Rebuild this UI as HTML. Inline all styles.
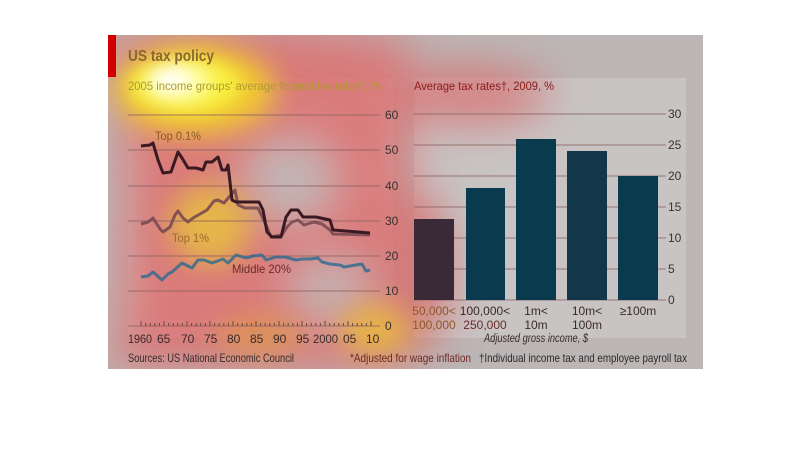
<!DOCTYPE html>
<html><head><meta charset="utf-8"><style>
html,body{margin:0;padding:0;background:#fff;width:810px;height:464px;overflow:hidden}
svg{display:block;font-family:"Liberation Sans",sans-serif}
</style></head><body>
<svg width="810" height="464" viewBox="0 0 810 464">
<defs>
<filter id="b" x="-50%" y="-50%" width="200%" height="200%"><feGaussianBlur stdDeviation="22"/></filter>
<filter id="b2" x="-50%" y="-50%" width="200%" height="200%"><feGaussianBlur stdDeviation="14"/></filter>
<filter id="b3" x="-50%" y="-50%" width="200%" height="200%"><feGaussianBlur stdDeviation="8"/></filter>
<clipPath id="c"><rect x="108" y="35" width="595" height="334"/></clipPath>
</defs>
<rect x="108" y="35" width="595" height="334" fill="#bcb6b6"/>
<rect x="128" y="78" width="265" height="260" fill="#c6c2c2"/>
<rect x="414" y="78" width="272" height="260" fill="#c8c4c4"/>
<g clip-path="url(#c)">
<g filter="url(#b)" opacity="0.8">
<rect x="108" y="35" width="300" height="334" fill="#e06a6a"/>
<ellipse cx="250" cy="60" rx="160" ry="35" fill="#e06a6a"/>
<ellipse cx="470" cy="95" rx="80" ry="30" fill="#d96e6e"/>
<ellipse cx="420" cy="270" rx="30" ry="80" fill="#d86c6c"/>
<ellipse cx="290" cy="180" rx="45" ry="40" fill="#bfb6b6"/>
<ellipse cx="330" cy="290" rx="40" ry="30" fill="#c0b4b4"/>
<ellipse cx="112" cy="200" rx="10" ry="150" fill="#bcb6b6"/>
</g>
<g filter="url(#b2)">
<ellipse cx="195" cy="90" rx="80" ry="45" fill="#f2d02a" opacity="0.95"/>
<ellipse cx="210" cy="225" rx="40" ry="40" fill="#e8c040" opacity="0.85"/>
<ellipse cx="375" cy="330" rx="35" ry="25" fill="#eac03a" opacity="0.8"/>
<ellipse cx="260" cy="335" rx="45" ry="20" fill="#e0a040" opacity="0.6"/>
</g>
<g filter="url(#b3)">
<ellipse cx="185" cy="85" rx="55" ry="28" fill="#f8f040"/>
<ellipse cx="178" cy="82" rx="32" ry="18" fill="#ffffa0"/>
<ellipse cx="172" cy="80" rx="18" ry="10" fill="#ffffff"/>
</g>
</g>
<rect x="108" y="35" width="8" height="42" fill="#d00000"/>
<text x="128" y="61" font-size="16" font-weight="bold" fill="#8a6a2a" textLength="86" lengthAdjust="spacingAndGlyphs">US tax policy</text>
<text x="128" y="90" font-size="12" fill="#b09a30" textLength="253" lengthAdjust="spacingAndGlyphs">2005 income groups' average federal tax rates*, %</text>
<text x="414" y="90" font-size="12" fill="#8a1a1a" textLength="140" lengthAdjust="spacingAndGlyphs">Average tax rates†, 2009, %</text>
<g stroke="#8a6060" stroke-width="1" opacity="0.8">
<line x1="128" y1="115" x2="380" y2="115"/><line x1="128" y1="150" x2="380" y2="150"/>
<line x1="128" y1="186" x2="380" y2="186"/><line x1="128" y1="221" x2="380" y2="221"/>
<line x1="128" y1="256" x2="380" y2="256"/><line x1="128" y1="291" x2="380" y2="291"/>
<line x1="128" y1="326" x2="380" y2="326"/>
<line x1="414" y1="114" x2="666" y2="114"/><line x1="414" y1="145" x2="666" y2="145"/>
<line x1="414" y1="176" x2="666" y2="176"/><line x1="414" y1="207" x2="666" y2="207"/>
<line x1="414" y1="238" x2="666" y2="238"/><line x1="414" y1="269" x2="666" y2="269"/>
<line x1="414" y1="300" x2="666" y2="300"/>
</g>
<g font-size="12" fill="#3a3030">
<text x="385" y="119">60</text><text x="385" y="154">50</text><text x="385" y="190">40</text>
<text x="385" y="225">30</text><text x="385" y="260">20</text><text x="385" y="295">10</text><text x="385" y="330">0</text>
<text x="668" y="118">30</text><text x="668" y="149">25</text><text x="668" y="180">20</text>
<text x="668" y="211">15</text><text x="668" y="242">10</text><text x="668" y="273">5</text><text x="668" y="304">0</text>
</g>
<g stroke="#6a4a3a" stroke-width="1">
<path d="M141 326v-5M145.6 326v-3M150.2 326v-3M154.8 326v-3M159.4 326v-3M164 326v-5M168.6 326v-3M173.2 326v-3M177.8 326v-3M182.4 326v-3M187 326v-5M191.6 326v-3M196.2 326v-3M200.8 326v-3M205.4 326v-3M210 326v-5M214.6 326v-3M219.2 326v-3M223.8 326v-3M228.4 326v-3M233 326v-5M237.6 326v-3M242.2 326v-3M246.8 326v-3M251.4 326v-3M256 326v-5M260.6 326v-3M265.2 326v-3M269.8 326v-3M274.4 326v-3M279 326v-5M283.6 326v-3M288.2 326v-3M292.8 326v-3M297.4 326v-3M302 326v-5M306.6 326v-3M311.2 326v-3M315.8 326v-3M320.4 326v-3M325 326v-5M329.6 326v-3M334.2 326v-3M338.8 326v-3M343.4 326v-3M348 326v-5M352.6 326v-3M357.2 326v-3M361.8 326v-3M366.4 326v-3M371 326v-5"/>
</g>
<g font-size="12" fill="#3a2a2a">
<text x="128" y="343" textLength="24" lengthAdjust="spacingAndGlyphs">1960</text><text x="157" y="343">65</text><text x="181" y="343">70</text>
<text x="204" y="343">75</text><text x="227" y="343">80</text><text x="250" y="343">85</text>
<text x="273" y="343">90</text><text x="296" y="343">95</text><text x="313" y="343" textLength="25" lengthAdjust="spacingAndGlyphs">2000</text>
<text x="343" y="343">05</text><text x="366" y="343">10</text>
</g>
<g fill="none" stroke-width="3" stroke-linejoin="round">
<polyline stroke="#7a4a50" opacity="0.9" points="141,224 148,222 153,218 160,229 163,232 170,227 175,215 178,211 183,218 188,222 193,218 200,214 207,210 214,201 218,200 224,203 229,197 235,190 238,205 245,208 258,208 266,225 271,237 282,235 287,227 292,222 298,220 304,225 314,222 322,224 330,230 333,234 370,235"/>
<polyline stroke="#3a1a22" points="141,146 150,145 153,143 158,160 163,173 171,172 178,152 182,158 188,168 196,168 203,170 206,162 212,162 218,157 222,170 226,170 228,165 230,182 232,200 236,202 259,202 263,210 267,232 272,237 281,237 286,217 291,210 298,210 303,217 316,217 330,220 333,230 370,233"/>
<polyline stroke="#2a6a90" opacity="0.8" points="141,277 148,276 153,272 162,280 168,274 172,272 182,263 192,268 198,260 204,260 212,263 223,259 228,263 236,255 246,258 253,256 262,255 266,260 276,257 285,257 296,260 302,259 310,259 318,258 322,262 330,264 340,265 344,267 362,264 366,271 370,270"/>
</g>
<text x="155" y="140" font-size="12" fill="#8a5a2a" textLength="46" lengthAdjust="spacingAndGlyphs">Top 0.1%</text>
<text x="172" y="242" font-size="12" fill="#9a6a2a" textLength="37" lengthAdjust="spacingAndGlyphs">Top 1%</text>
<text x="232" y="273" font-size="12" fill="#6a2a2a" textLength="59" lengthAdjust="spacingAndGlyphs">Middle 20%</text>
<g fill="#0a3a4e">
<rect x="414" y="219" width="40" height="81" fill="#3a2a38"/>
<rect x="466" y="188" width="39" height="112"/>
<rect x="516" y="139" width="40" height="161"/>
<rect x="567" y="151" width="40" height="149" fill="#12364a"/>
<rect x="618" y="176" width="40" height="124"/>
</g>
<g font-size="12" fill="#3a2a2a" text-anchor="middle">
<text x="434" y="315" fill="#8a5a2a">50,000&lt;</text><text x="434" y="329" fill="#8a5a2a">100,000</text>
<text x="485" y="315">100,000&lt;</text><text x="485" y="329" fill="#6a2a2a">250,000</text>
<text x="536" y="315">1m&lt;</text><text x="536" y="329">10m</text>
<text x="587" y="315">10m&lt;</text><text x="587" y="329">100m</text>
<text x="638" y="315">≥100m</text>
<text x="536" y="342" font-style="italic" textLength="104" lengthAdjust="spacingAndGlyphs">Adjusted gross income, $</text>
</g>
<text x="128" y="362" font-size="12" fill="#3a2a2a" textLength="166" lengthAdjust="spacingAndGlyphs">Sources: US National Economic Council</text>
<text x="350" y="362" font-size="12" fill="#6a2a2a" textLength="121" lengthAdjust="spacingAndGlyphs">*Adjusted for wage inflation</text>
<text x="479" y="362" font-size="12" fill="#2a2a2a" textLength="208" lengthAdjust="spacingAndGlyphs">†Individual income tax and employee payroll tax</text>
</svg>
</body></html>
